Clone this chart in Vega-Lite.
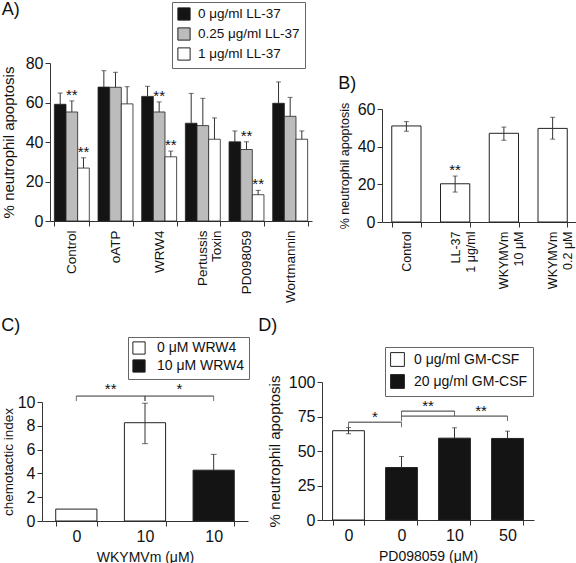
{
  "$schema": "https://vega.github.io/schema/vega-lite/v6.json",
  "padding": {"left": 0, "top": 0, "right": 0, "bottom": 0},
  "config": {
    "font": "Liberation Sans",
    "view": {"stroke": null},
    "axis": {"grid": false, "domainColor": "#333", "tickColor": "#333", "labelColor": "#111", "titleColor": "#111", "titleFontWeight": "normal", "labelFont": "Liberation Sans", "titleFont": "Liberation Sans", "tickSize": 5, "labelPadding": 2, "titlePadding": 6},
    "axisY": {"labelOverlap": false},
    "title": {"fontWeight": "normal", "anchor": "start", "frame": "bounds", "fontSize": 18, "font": "Liberation Sans", "color": "#111"},
    "legend": {"labelFont": "Liberation Sans", "labelColor": "#111", "strokeColor": "#666", "fillColor": "#fff", "symbolType": "square", "symbolStrokeColor": "#222", "symbolStrokeWidth": 1}
  },
  "datasets": {
    "dA": [
      {"treatment": "Control", "dose": "0 μg/ml LL-37", "value": 59.1, "hi": 64.8},
      {"treatment": "Control", "dose": "0.25 μg/ml LL-37", "value": 55.2, "hi": 60.8, "star": "**"},
      {"treatment": "Control", "dose": "1 μg/ml LL-37", "value": 26.8, "hi": 32, "star": "**"},
      {"treatment": "oATP", "dose": "0 μg/ml LL-37", "value": 67.8, "hi": 76.1},
      {"treatment": "oATP", "dose": "0.25 μg/ml LL-37", "value": 67.7, "hi": 75.3},
      {"treatment": "oATP", "dose": "1 μg/ml LL-37", "value": 59.3, "hi": 68},
      {"treatment": "WRW4", "dose": "0 μg/ml LL-37", "value": 63.1, "hi": 68.2},
      {"treatment": "WRW4", "dose": "0.25 μg/ml LL-37", "value": 55.2, "hi": 60.3, "star": "**"},
      {"treatment": "WRW4", "dose": "1 μg/ml LL-37", "value": 32.5, "hi": 35.4, "star": "**"},
      {"treatment": "Pertussis Toxin", "dose": "0 μg/ml LL-37", "value": 49.5, "hi": 64.6},
      {"treatment": "Pertussis Toxin", "dose": "0.25 μg/ml LL-37", "value": 48.3, "hi": 62.1},
      {"treatment": "Pertussis Toxin", "dose": "1 μg/ml LL-37", "value": 41.4, "hi": 52.2},
      {"treatment": "PD098059", "dose": "0 μg/ml LL-37", "value": 40.1, "hi": 45.6},
      {"treatment": "PD098059", "dose": "0.25 μg/ml LL-37", "value": 36.2, "hi": 40.1, "star": "**"},
      {"treatment": "PD098059", "dose": "1 μg/ml LL-37", "value": 13.3, "hi": 15.5, "star": "**"},
      {"treatment": "Wortmannin", "dose": "0 μg/ml LL-37", "value": 59.6, "hi": 70.4},
      {"treatment": "Wortmannin", "dose": "0.25 μg/ml LL-37", "value": 53, "hi": 62.6},
      {"treatment": "Wortmannin", "dose": "1 μg/ml LL-37", "value": 41.4, "hi": 45.6}
    ],
    "dB": [
      {"cond": "Control", "value": 51, "lo": 48.2, "hi": 53.3},
      {"cond": "LL-37|1 μg/ml", "value": 20.3, "lo": 15.9, "hi": 24.4, "star": "**"},
      {"cond": "WKYMVm|10 μM", "value": 47.1, "lo": 43.4, "hi": 50.4},
      {"cond": "WKYMVm|0.2 μM", "value": 49.7, "lo": 44, "hi": 55.6}
    ],
    "dC": [
      {"cat": "a", "grp": "0 μM  WRW4", "value": 1.0},
      {"cat": "b", "grp": "0 μM  WRW4", "value": 8.26, "lo": 6.5, "hi": 9.9},
      {"cat": "c", "grp": "10 μM WRW4", "value": 4.27, "lo": 4.27, "hi": 5.6}
    ],
    "bC": [
      {"from": "a", "to": "b", "y": 10.5, "label": "**", "at": "a"},
      {"from": "b", "to": "c", "y": 10.5, "label": "*", "at": "b"}
    ],
    "dD": [
      {"cat": "a", "grp": "0 μg/ml GM-CSF", "value": 64.7, "lo": 62.5, "hi": 67},
      {"cat": "b", "grp": "20 μg/ml GM-CSF", "value": 38, "lo": 38, "hi": 46},
      {"cat": "c", "grp": "20 μg/ml GM-CSF", "value": 59.3, "lo": 59.3, "hi": 66.8},
      {"cat": "d", "grp": "20 μg/ml GM-CSF", "value": 59.1, "lo": 59.1, "hi": 64.4}
    ],
    "bD": [
      {"from": "a", "to": "b", "y": 70.9, "label": "*", "at": "a"},
      {"from": "b", "to": "c", "y": 78.9, "label": "**", "at": "b"},
      {"from": "b", "to": "d", "y": 75.3, "label": "**", "at": "c"}
    ]
  },
  "resolve": {"scale": {"fill": "independent"}, "legend": {"fill": "independent"}},
  "spacing": 12,
  "vconcat": [
    {
      "spacing": 0,
      "resolve": {"scale": {"fill": "independent"}, "legend": {"fill": "independent"}},
      "hconcat": [
        {"width": 1, "height": 1, "data": {"values": []}, "mark": "point", "encoding": {}},
        {
          "spacing": 26,
          "resolve": {"scale": {"fill": "independent"}, "legend": {"fill": "independent"}},
          "hconcat": [
            {
              "title": {"text": "A)", "offset": -17},
              "width": 262,
              "height": 158,
              "data": {"name": "dA"},
              "encoding": {
                "x": {"field": "treatment", "type": "nominal", "sort": ["Control", "oATP", "WRW4", "Pertussis Toxin", "PD098059", "Wortmannin"], "scale": {"paddingInner": 0.2, "paddingOuter": 0.1}, "axis": {"title": null, "labelAngle": -90, "labelFontSize": 13.5, "labelLineHeight": 14, "tickBand": "extent", "labelPadding": 4, "labelExpr": "datum.value == 'Pertussis Toxin' ? ['Pertussis', 'Toxin'] : datum.value ? datum.value : ''"}},
                "xOffset": {"field": "dose", "type": "nominal", "sort": ["0 μg/ml LL-37", "0.25 μg/ml LL-37", "1 μg/ml LL-37"]},
                "y": {"field": "value", "type": "quantitative", "scale": {"domain": [0, 80]}, "axis": {"values": [0, 20, 40, 60, 80], "labelOverlap": false, "title": "% neutrophil apoptosis", "titleFontSize": 15, "labelFontSize": 16, "titlePadding": 8.5}}
              },
              "layer": [
                {
                  "mark": {"type": "bar", "stroke": "#222", "strokeWidth": 0.8},
                  "encoding": {
                    "fill": {"field": "dose", "type": "nominal", "scale": {"domain": ["0 μg/ml LL-37", "0.25 μg/ml LL-37", "1 μg/ml LL-37"], "range": ["#141414", "#bcbcbc", "#ffffff"]}, "legend": {"title": null, "orient": "none", "legendX": 122, "legendY": -61, "padding": 5, "rowPadding": 2, "symbolSize": 150, "labelFontSize": 13.5, "labelOffset": 7}}
                  }
                },
                {"mark": {"type": "rule", "color": "#333"}, "encoding": {"y2": {"field": "hi"}}},
                {"mark": {"type": "tick", "color": "#333", "size": 5, "thickness": 1}, "encoding": {"y": {"field": "hi", "type": "quantitative", "axis": {"values": [0, 20, 40, 60, 80], "labelOverlap": false, "title": "% neutrophil apoptosis", "titleFontSize": 15, "labelFontSize": 16, "titlePadding": 8.5}}}},
                {"transform": [{"filter": "datum.star"}], "mark": {"type": "text", "fontSize": 15, "dy": -1, "baseline": "alphabetic", "color": "#111"}, "encoding": {"y": {"field": "hi", "type": "quantitative", "axis": {"values": [0, 20, 40, 60, 80], "labelOverlap": false, "title": "% neutrophil apoptosis", "titleFontSize": 15, "labelFontSize": 16, "titlePadding": 8.5}}, "text": {"field": "star"}}}
              ]
            },
            {
              "spacing": 0,
              "resolve": {"scale": {"fill": "independent"}, "legend": {"fill": "independent"}},
              "vconcat": [
                {"width": 1, "height": 12, "data": {"values": []}, "mark": "point", "encoding": {}},
                {
                  "title": {"text": "B)", "offset": 8},
                  "width": 195,
                  "height": 113,
                  "data": {"name": "dB"},
                  "encoding": {
                    "x": {"field": "cond", "type": "nominal", "sort": null, "scale": {"paddingInner": 0.4, "paddingOuter": 0.2}, "axis": {"title": null, "labelAngle": -90, "labelFontSize": 12.5, "labelLineHeight": 15, "tickBand": "extent", "labelPadding": 4, "labelExpr": "datum.value ? split(datum.value, '|') : ''"}}
                  },
                  "layer": [
                    {"mark": {"type": "bar", "fill": "#fff", "stroke": "#222", "strokeWidth": 1}, "encoding": {"y": {"field": "value", "type": "quantitative", "scale": {"domain": [0, 60]}, "axis": {"values": [0, 20, 40, 60], "labelOverlap": false, "title": "% neutrophil apoptosis", "titleFontSize": 12.5, "labelFontSize": 16}}}},
                    {"mark": {"type": "rule", "color": "#333"}, "encoding": {"y": {"field": "lo", "type": "quantitative", "axis": {"values": [0, 20, 40, 60], "labelOverlap": false, "title": "% neutrophil apoptosis", "titleFontSize": 12.5, "labelFontSize": 16}}, "y2": {"field": "hi"}}},
                    {"mark": {"type": "tick", "color": "#333", "size": 5, "thickness": 1}, "encoding": {"y": {"field": "hi", "type": "quantitative", "axis": {"values": [0, 20, 40, 60], "labelOverlap": false, "title": "% neutrophil apoptosis", "titleFontSize": 12.5, "labelFontSize": 16}}}},
                    {"mark": {"type": "tick", "color": "#333", "size": 5, "thickness": 1}, "encoding": {"y": {"field": "lo", "type": "quantitative", "axis": {"values": [0, 20, 40, 60], "labelOverlap": false, "title": "% neutrophil apoptosis", "titleFontSize": 12.5, "labelFontSize": 16}}}},
                    {"transform": [{"filter": "datum.star"}], "mark": {"type": "text", "fontSize": 15, "dy": -1, "baseline": "alphabetic", "color": "#111"}, "encoding": {"y": {"field": "hi", "type": "quantitative", "axis": {"values": [0, 20, 40, 60], "labelOverlap": false, "title": "% neutrophil apoptosis", "titleFontSize": 12.5, "labelFontSize": 16}}, "text": {"field": "star"}}}
                  ]
                }
              ]
            }
          ]
        }
      ]
    },
    {
      "spacing": 0,
      "resolve": {"scale": {"fill": "independent"}, "legend": {"fill": "independent"}},
      "hconcat": [
        {"width": 1, "height": 1, "data": {"values": []}, "mark": "point", "encoding": {}},
        {
          "spacing": 8,
          "resolve": {"scale": {"fill": "independent"}, "legend": {"fill": "independent"}},
          "hconcat": [
            {
              "spacing": 0,
              "resolve": {"scale": {"fill": "independent"}, "legend": {"fill": "independent"}},
              "vconcat": [
                {"width": 1, "height": 1, "data": {"values": []}, "mark": "point", "encoding": {}},
                {
                  "title": {"text": "C)", "offset": 2},
                  "width": 206,
                  "height": 119,
                  "layer": [
                    {
                      "data": {"name": "dC"},
                      "mark": {"type": "bar", "stroke": "#222", "strokeWidth": 1},
                      "encoding": {
                        "x": {"field": "cat", "type": "nominal", "scale": {"domain": ["a", "b", "c"], "paddingInner": 0.4, "paddingOuter": 0.2}, "axis": {"title": "WKYMVm (μM)", "titleFontSize": 14, "labelAngle": 0, "labelFontSize": 16, "tickBand": "extent", "labelExpr": "datum.value == 'a' ? '0' : datum.value ? '10' : ''"}},
                        "y": {"field": "value", "type": "quantitative", "scale": {"domain": [0, 10]}, "axis": {"values": [0, 2, 4, 6, 8, 10], "labelOverlap": false, "title": "chemotactic index", "titleFontSize": 13.5, "labelFontSize": 16, "titlePadding": 2}},
                        "fill": {"field": "grp", "type": "nominal", "scale": {"domain": ["0 μM  WRW4", "10 μM WRW4"], "range": ["#ffffff", "#141414"]}, "legend": {"title": null, "orient": "none", "legendX": 86, "legendY": -65, "padding": 4, "rowPadding": 0, "symbolSize": 150, "labelFontSize": 14, "labelOffset": 11}}
                      }
                    },
                    {"data": {"name": "dC"}, "transform": [{"filter": "datum.hi != null"}], "mark": {"type": "rule", "color": "#333"}, "encoding": {"x": {"field": "cat", "type": "nominal"}, "y": {"field": "lo", "type": "quantitative", "axis": {"values": [0, 2, 4, 6, 8, 10], "labelOverlap": false, "title": "chemotactic index", "titleFontSize": 13.5, "labelFontSize": 16, "titlePadding": 2}}, "y2": {"field": "hi"}}},
                    {"data": {"name": "dC"}, "transform": [{"filter": "datum.hi != null"}], "mark": {"type": "tick", "color": "#333", "size": 6, "thickness": 1}, "encoding": {"x": {"field": "cat", "type": "nominal"}, "y": {"field": "hi", "type": "quantitative", "axis": {"values": [0, 2, 4, 6, 8, 10], "labelOverlap": false, "title": "chemotactic index", "titleFontSize": 13.5, "labelFontSize": 16, "titlePadding": 2}}}},
                    {"data": {"name": "dC"}, "transform": [{"filter": "datum.hi != null && datum.lo < datum.value"}], "mark": {"type": "tick", "color": "#333", "size": 6, "thickness": 1}, "encoding": {"x": {"field": "cat", "type": "nominal"}, "y": {"field": "lo", "type": "quantitative", "axis": {"values": [0, 2, 4, 6, 8, 10], "labelOverlap": false, "title": "chemotactic index", "titleFontSize": 13.5, "labelFontSize": 16, "titlePadding": 2}}}},
                    {"data": {"name": "bC"}, "mark": {"type": "rule", "color": "#333"}, "encoding": {"x": {"field": "from", "type": "nominal"}, "x2": {"field": "to"}, "y": {"field": "y", "type": "quantitative", "axis": {"values": [0, 2, 4, 6, 8, 10], "labelOverlap": false, "title": "chemotactic index", "titleFontSize": 13.5, "labelFontSize": 16, "titlePadding": 2}}}},
                    {"data": {"name": "bC"}, "mark": {"type": "tick", "orient": "vertical", "color": "#333", "size": 5, "thickness": 1, "yOffset": 2.5}, "encoding": {"x": {"field": "from", "type": "nominal"}, "y": {"field": "y", "type": "quantitative", "axis": {"values": [0, 2, 4, 6, 8, 10], "labelOverlap": false, "title": "chemotactic index", "titleFontSize": 13.5, "labelFontSize": 16, "titlePadding": 2}}}},
                    {"data": {"name": "bC"}, "mark": {"type": "tick", "orient": "vertical", "color": "#333", "size": 5, "thickness": 1, "yOffset": 2.5}, "encoding": {"x": {"field": "to", "type": "nominal"}, "y": {"field": "y", "type": "quantitative", "axis": {"values": [0, 2, 4, 6, 8, 10], "labelOverlap": false, "title": "chemotactic index", "titleFontSize": 13.5, "labelFontSize": 16, "titlePadding": 2}}}},
                    {"data": {"name": "bC"}, "mark": {"type": "text", "fontSize": 15, "dy": -2, "baseline": "alphabetic", "color": "#111"}, "encoding": {"x": {"field": "at", "type": "nominal", "bandPosition": 1.3333}, "y": {"field": "y", "type": "quantitative", "axis": {"values": [0, 2, 4, 6, 8, 10], "labelOverlap": false, "title": "chemotactic index", "titleFontSize": 13.5, "labelFontSize": 16, "titlePadding": 2}}, "text": {"field": "label"}}}
                  ]
                }
              ]
            },
            {
              "spacing": 0,
              "resolve": {"scale": {"fill": "independent"}, "legend": {"fill": "independent"}},
              "vconcat": [
                {"width": 1, "height": 1, "data": {"values": []}, "mark": "point", "encoding": {}},
                {
                  "title": {"text": "D)", "offset": 12, "dx": -9},
                  "width": 212,
                  "height": 138,
                  "layer": [
                    {
                      "data": {"name": "dD"},
                      "mark": {"type": "bar", "stroke": "#222", "strokeWidth": 1},
                      "encoding": {
                        "x": {"field": "cat", "type": "nominal", "scale": {"domain": ["a", "b", "c", "d"], "paddingInner": 0.4, "paddingOuter": 0.2}, "axis": {"title": "PD098059 (μM)", "titleFontSize": 14, "labelAngle": 0, "labelFontSize": 16, "tickBand": "extent", "labelExpr": "datum.value == 'c' ? '10' : datum.value == 'd' ? '50' : datum.value ? '0' : ''"}},
                        "y": {"field": "value", "type": "quantitative", "scale": {"domain": [0, 100]}, "axis": {"values": [0, 25, 50, 75, 100], "labelOverlap": false, "title": "% neutrophil apoptosis", "titleFontSize": 15, "labelFontSize": 16}},
                        "fill": {"field": "grp", "type": "nominal", "scale": {"domain": ["0 μg/ml GM-CSF", "20 μg/ml GM-CSF"], "range": ["#ffffff", "#141414"]}, "legend": {"title": null, "orient": "none", "legendX": 63, "legendY": -35, "padding": 5, "rowPadding": 3, "symbolSize": 190, "labelFontSize": 14, "labelOffset": 9}}
                      }
                    },
                    {"data": {"name": "dD"}, "mark": {"type": "rule", "color": "#333"}, "encoding": {"x": {"field": "cat", "type": "nominal"}, "y": {"field": "lo", "type": "quantitative", "axis": {"values": [0, 25, 50, 75, 100], "labelOverlap": false, "title": "% neutrophil apoptosis", "titleFontSize": 15, "labelFontSize": 16}}, "y2": {"field": "hi"}}},
                    {"data": {"name": "dD"}, "mark": {"type": "tick", "color": "#333", "size": 5, "thickness": 1}, "encoding": {"x": {"field": "cat", "type": "nominal"}, "y": {"field": "hi", "type": "quantitative", "axis": {"values": [0, 25, 50, 75, 100], "labelOverlap": false, "title": "% neutrophil apoptosis", "titleFontSize": 15, "labelFontSize": 16}}}},
                    {"data": {"name": "dD"}, "transform": [{"filter": "datum.lo < datum.value"}], "mark": {"type": "tick", "color": "#333", "size": 5, "thickness": 1}, "encoding": {"x": {"field": "cat", "type": "nominal"}, "y": {"field": "lo", "type": "quantitative", "axis": {"values": [0, 25, 50, 75, 100], "labelOverlap": false, "title": "% neutrophil apoptosis", "titleFontSize": 15, "labelFontSize": 16}}}},
                    {"data": {"name": "bD"}, "mark": {"type": "rule", "color": "#333"}, "encoding": {"x": {"field": "from", "type": "nominal"}, "x2": {"field": "to"}, "y": {"field": "y", "type": "quantitative", "axis": {"values": [0, 25, 50, 75, 100], "labelOverlap": false, "title": "% neutrophil apoptosis", "titleFontSize": 15, "labelFontSize": 16}}}},
                    {"data": {"name": "bD"}, "mark": {"type": "tick", "orient": "vertical", "color": "#333", "size": 5, "thickness": 1, "yOffset": 2.5}, "encoding": {"x": {"field": "from", "type": "nominal"}, "y": {"field": "y", "type": "quantitative", "axis": {"values": [0, 25, 50, 75, 100], "labelOverlap": false, "title": "% neutrophil apoptosis", "titleFontSize": 15, "labelFontSize": 16}}}},
                    {"data": {"name": "bD"}, "mark": {"type": "tick", "orient": "vertical", "color": "#333", "size": 5, "thickness": 1, "yOffset": 2.5}, "encoding": {"x": {"field": "to", "type": "nominal"}, "y": {"field": "y", "type": "quantitative", "axis": {"values": [0, 25, 50, 75, 100], "labelOverlap": false, "title": "% neutrophil apoptosis", "titleFontSize": 15, "labelFontSize": 16}}}},
                    {"data": {"name": "bD"}, "mark": {"type": "text", "fontSize": 15, "dy": 0, "baseline": "alphabetic", "color": "#111"}, "encoding": {"x": {"field": "at", "type": "nominal", "bandPosition": 1.3333}, "y": {"field": "y", "type": "quantitative", "axis": {"values": [0, 25, 50, 75, 100], "labelOverlap": false, "title": "% neutrophil apoptosis", "titleFontSize": 15, "labelFontSize": 16}}, "text": {"field": "label"}}}
                  ]
                }
              ]
            }
          ]
        }
      ]
    }
  ]
}
